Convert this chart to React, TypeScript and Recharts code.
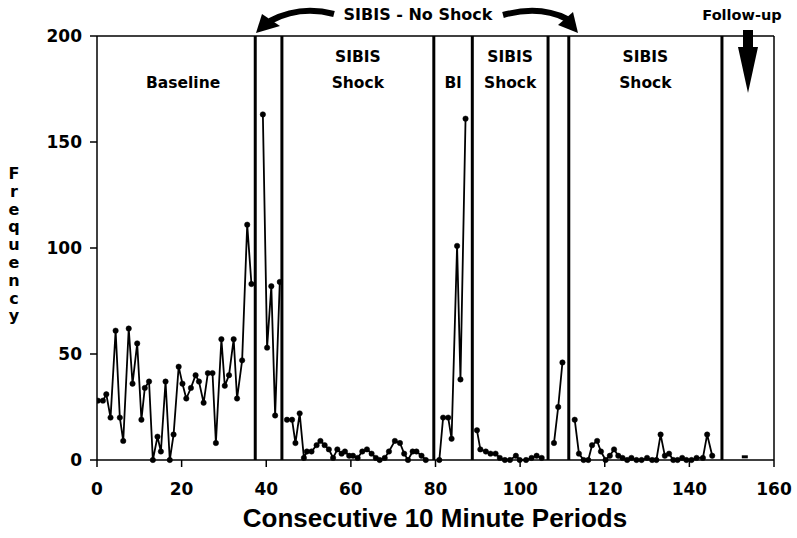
import React from 'react'
import { LineChart, Line, XAxis, YAxis, ReferenceLine, ReferenceArea } from 'recharts'

// Period positions (x) and frequencies (y), one pair of arrays per phase
const baselineT = [0.2, 1.4, 2.2, 3.2, 4.4, 5.4, 6.2, 7.5, 8.4, 9.5, 10.5, 11.3, 12.3, 13.2, 14.3, 15.1, 16.2, 17.2, 18.1, 19.3, 20.2, 21.1, 22.2, 23.3, 24.1, 25.2, 26.2, 27.3, 28.1, 29.4, 30.2, 31.2, 32.3, 33.1, 34.3, 35.5, 36.5]
const baselineF = [28, 28, 31, 20, 61, 20, 9, 62, 36, 55, 19, 34, 37, 0, 11, 4, 37, 0, 12, 44, 36, 29, 34, 40, 37, 27, 41, 41, 8, 57, 35, 40, 57, 29, 47, 111, 83]

const noShock1T = [39.2, 40.2, 41.2, 42.1, 43.2]
const noShock1F = [163, 53, 82, 21, 84]

const shock1T = [44.9, 46.1, 46.9, 47.9, 48.9, 49.6, 50.7, 51.9, 52.8, 53.8, 54.8, 55.8, 56.8, 57.8, 58.6, 59.6, 60.5, 61.6, 62.7, 63.8, 64.9, 65.9, 66.8, 68.0, 69.0, 70.4, 71.6, 72.6, 73.5, 74.6, 75.5, 76.7, 77.7]
const shock1F = [19, 19, 8, 22, 1, 4, 4, 7, 9, 7, 5, 1, 5, 3, 4, 2, 2, 1, 4, 5, 3, 1, 0, 1, 4, 9, 8, 3, 0, 4, 4, 2, 0]

const baseline2T = [80.9, 81.8, 83.0, 83.8, 85.1, 85.9, 87.1]
const baseline2F = [0, 20, 20, 10, 101, 38, 161]

const shock2T = [89.8, 90.6, 91.9, 93.0, 94.2, 95.2, 96.4, 97.6, 99.0, 99.9, 101.4, 102.7, 103.9, 105.1]
const shock2F = [14, 5, 4, 3, 3, 1, 0, 0, 2, 0, 0, 1, 2, 1]

const noShock2T = [108.0, 109.0, 110.0]
const noShock2F = [8, 25, 46]

const shock3T = [112.9, 113.9, 115.0, 116.1, 117.0, 118.2, 119.1, 120.2, 121.2, 122.2, 123.2, 124.2, 125.3, 126.3, 127.5, 128.7, 130.0, 131.2, 132.2, 133.2, 134.2, 135.2, 136.2, 137.2, 138.3, 139.3, 140.5, 141.7, 143.2, 144.2, 145.4]
const shock3F = [19, 3, 0, 0, 7, 9, 4, 0, 2, 5, 2, 1, 0, 1, 0, 0, 1, 0, 0, 12, 2, 3, 0, 0, 1, 0, 0, 1, 1, 12, 2]

const followUpT = [153.1]
const followUpF = [1.5]

// phase change lines
const phaseLines = [37.4, 43.7, 79.6, 88.7, 106.6, 111.5, 147.7]

const xTicks = [0, 20, 40, 60, 80, 100, 120, 140, 160]
const yTicks = [0, 50, 100, 150, 200]

const toRows = (t: number[], f: number[]) => t.map((v, i) => ({ t: v, f: f[i] }))

const segments = [
  toRows(baselineT, baselineF),
  toRows(noShock1T, noShock1F),
  toRows(shock1T, shock1F),
  toRows(baseline2T, baseline2F),
  toRows(shock2T, shock2F),
  toRows(noShock2T, noShock2F),
  toRows(shock3T, shock3F),
]

const phaseLabels = [
  { x1: 0, x2: 37.4, lines: ['', 'Baseline'], dx: 7 },
  { x1: 43.7, x2: 79.6, lines: ['SIBIS', 'Shock'], dx: 0 },
  { x1: 79.6, x2: 88.7, lines: ['', 'Bl'], dx: 0 },
  { x1: 88.7, x2: 106.6, lines: ['SIBIS', 'Shock'], dx: 0 },
  { x1: 111.5, x2: 147.7, lines: ['SIBIS', 'Shock'], dx: 0 },
]

const boldFont = '"DejaVu Sans", sans-serif'

function PhaseLabel({ viewBox, lines, dx }: any) {
  const cx = viewBox.x + viewBox.width / 2 + dx
  return (
    <text textAnchor="middle" fontFamily={boldFont} fontWeight="bold" fontSize={15.5} fill="#000">
      {lines[0] && <tspan x={cx} y={62}>{lines[0]}</tspan>}
      <tspan x={cx} y={88}>{lines[1]}</tspan>
    </text>
  )
}

const dash = (p: any) => (
  <rect key={`fu-${p.index}`} x={p.cx - 3} y={p.cy - 1.5} width={6} height={3} fill="#000" />
)

export default function App() {
  return (
    <div style={{ position: 'absolute', left: 0, top: 0, width: 797, height: 538, background: '#fff' }}>
      <LineChart width={797} height={538} margin={{ top: 36, right: 23, left: 0, bottom: 38 }}>
        <XAxis
          type="number"
          dataKey="t"
          domain={[0, 160]}
          ticks={xTicks}
          allowDataOverflow
          stroke="#000"
          strokeWidth={1.5}
          tickSize={7}
          tickMargin={16}
          height={40}
          tick={{ fill: '#000', fontSize: 17, fontWeight: 'bold', fontFamily: boldFont }}
        />
        <YAxis
          type="number"
          dataKey="f"
          domain={[0, 200]}
          ticks={yTicks}
          width={97}
          stroke="#000"
          strokeWidth={1.5}
          tickSize={7}
          tickMargin={8}
          tick={{ fill: '#000', fontSize: 17, fontWeight: 'bold', fontFamily: boldFont }}
        />
        <ReferenceLine y={200} stroke="#000" strokeWidth={1.5} />
        <ReferenceLine x={160} stroke="#000" strokeWidth={1.5} />
        {phaseLines.map((x) => (
          <ReferenceLine key={x} x={x} stroke="#000" strokeWidth={3} />
        ))}
        {phaseLabels.map((p, i) => (
          <ReferenceArea
            key={i}
            x1={p.x1}
            x2={p.x2}
            y1={0}
            y2={200}
            fill="none"
            fillOpacity={0}
            stroke="none"
            label={(props: any) => <PhaseLabel {...props} lines={p.lines} dx={p.dx} />}
          />
        ))}
        {segments.map((d, i) => (
          <Line
            key={i}
            data={d}
            dataKey="f"
            type="linear"
            stroke="#000"
            strokeWidth={1.8}
            dot={{ r: 2.7, fill: '#000', stroke: '#000', strokeWidth: 0.5 }}
            activeDot={false}
            isAnimationActive={false}
          />
        ))}
        <Line
          data={toRows(followUpT, followUpF)}
          dataKey="f"
          stroke="none"
          dot={dash}
          activeDot={false}
          isAnimationActive={false}
        />
      </LineChart>
      <svg
        width={797}
        height={538}
        style={{ position: 'absolute', left: 0, top: 0, pointerEvents: 'none' }}
      >
        <text x={418} y={20} textAnchor="middle" fontFamily={boldFont} fontWeight="bold" fontSize={16} fill="#000">
          SIBIS - No Shock
        </text>
        {/* left curved arrow */}
        <path d="M 334 14 Q 300 5 270 21" stroke="#000" strokeWidth={6} fill="none" />
        <polygon points="256,33 262,14 280,26" fill="#000" />
        {/* right curved arrow */}
        <path d="M 503 15 Q 540 5 567 19" stroke="#000" strokeWidth={6} fill="none" />
        <polygon points="578,33 558,25 573,12" fill="#000" />
        <text x={742} y={20} textAnchor="middle" fontFamily={boldFont} fontWeight="bold" fontSize={14.5} fill="#000">
          Follow-up
        </text>
        <rect x={743} y={30} width={10} height={18} fill="#000" />
        <polygon points="738,47 758,47 748,93" fill="#000" />
        <text textAnchor="middle" fontFamily={boldFont} fontWeight="bold" fontSize={16} fill="#000">
          {'Frequency'.split('').map((ch, i) => (
            <tspan key={i} x={14} y={179 + i * 17.8}>
              {ch}
            </tspan>
          ))}
        </text>
        <text x={435} y={527} textAnchor="middle" fontFamily='"Liberation Sans", Arial, sans-serif' fontWeight="bold" fontSize={26} fill="#000">
          Consecutive 10 Minute Periods
        </text>
      </svg>
    </div>
  )
}
